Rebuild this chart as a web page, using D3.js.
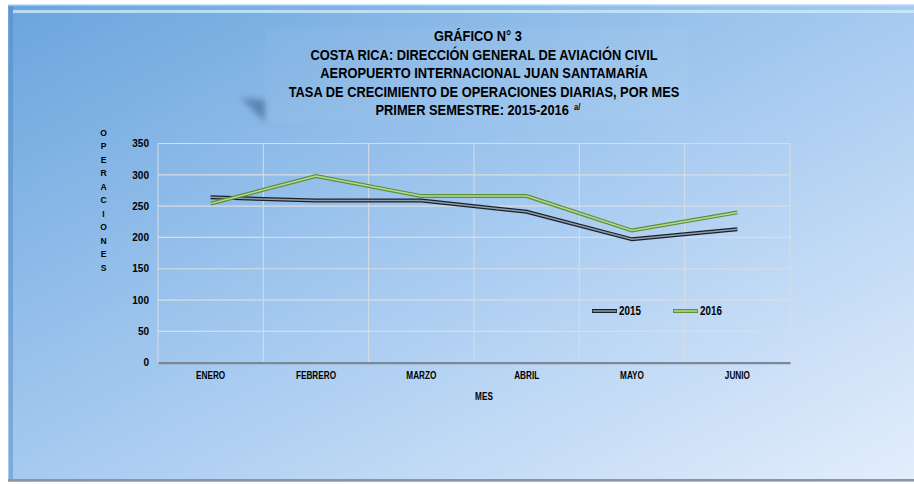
<!DOCTYPE html>
<html>
<head>
<meta charset="utf-8">
<script src="https://cdn.jsdelivr.net/npm/d3@7"></script>
<style>
  html, body { margin: 0; padding: 0; background: #fff; }
  svg { display: block; }
  text { font-family: "Liberation Sans", Arial, sans-serif; font-weight: bold; fill: #000; }
</style>
</head>
<body>
<svg width="914" height="484"></svg>
<script>
// chart data
var months = ["ENERO", "FEBRERO", "MARZO", "ABRIL", "MAYO", "JUNIO"];
var ops2015 = [264, 259, 259, 241, 197, 213];
var ops2016 = [254, 298, 266, 266, 211, 240];
var yTicks = [0, 50, 100, 150, 200, 250, 300, 350];
var titleLines = [
  "GRÁFICO N° 3",
  "COSTA RICA: DIRECCIÓN GENERAL DE AVIACIÓN CIVIL",
  "AEROPUERTO INTERNACIONAL JUAN SANTAMARÍA",
  "TASA DE CRECIMIENTO DE OPERACIONES DIARIAS, POR MES",
  "PRIMER SEMESTRE: 2015-2016"
];

// squeeze text horizontally around its own x (no narrow font installed)
function condense(sel, k){
    sel.each(function(){
        var t = d3.select(this);
        var x = +t.attr("x") || 0;
        t.attr("transform", "translate(" + x + ",0) scale(" + k + ",1) translate(" + (-x) + ",0)");
    });
}

function main(){
    var svg = d3.select("svg");

    var left = 158, right = 790, top = 143.5, bottom = 362.7;

    // background frame with gradient
    var defs = svg.append("defs");
    var grad = defs.append("linearGradient").attr("id", "bg")
        .attr("x1", "0").attr("y1", "0").attr("x2", "1").attr("y2", "1");
    grad.append("stop").attr("offset", "0").attr("stop-color", "#6aa5dd");
    grad.append("stop").attr("offset", "0.5").attr("stop-color", "#a6caf0");
    grad.append("stop").attr("offset", "1").attr("stop-color", "#e4eefc");

    var blur = defs.append("filter").attr("id", "blur")
        .attr("x", "-50%").attr("y", "-50%").attr("width", "200%").attr("height", "200%");
    blur.append("feGaussianBlur").attr("stdDeviation", 3);

    svg.append("rect").attr("x", 8).attr("y", 4).attr("width", 910).attr("height", 478)
        .attr("fill", "url(#bg)");
    // bevel edges
    svg.append("rect").attr("x", 8).attr("y", 4).attr("width", 910).attr("height", 1.5)
        .attr("fill", "#c6e3f7");
    svg.append("rect").attr("x", 13).attr("y", 10).attr("width", 905).attr("height", 3)
        .attr("fill", "#cdeefb").attr("opacity", 0.75);
    svg.append("rect").attr("x", 9).attr("y", 6).attr("width", 4).attr("height", 474)
        .attr("fill", "#4f86be").attr("opacity", 0.45);
    svg.append("rect").attr("x", 8).attr("y", 479).attr("width", 910).attr("height", 2.5)
        .attr("fill", "#8b96a5");

    // title box with shadow
    svg.append("polygon").attr("points", "241,98 265,100 265,122")
        .attr("fill", "#2d4f78").attr("opacity", 0.5).attr("filter", "url(#blur)");
    svg.append("rect").attr("x", 265).attr("y", 28).attr("width", 422).attr("height", 94)
        .attr("fill", "#ffffff").attr("opacity", 0.035);

    var title = svg.append("g").attr("class", "title");
    var tl = title.selectAll("text")
        .data(titleLines)
        .enter()
        .append("text")
        .attr("x", function(d, i){ return i === 0 ? 478 : (i === 4 ? 478 : 484); })
        .attr("y", function(d, i){ return 41.5 + i * 18.4; })
        .attr("text-anchor", "middle")
        .style("font-size", "15px")
        .text(function(d){ return d; });
    // superscript note mark
    tl.filter(function(d, i){ return i === titleLines.length - 1; })
        .append("tspan").attr("dx", 6).attr("dy", -5).style("font-size", "9px").text("a/");
    var widest = tl.nodes()[3].getComputedTextLength();
    condense(tl, 391 / widest);

    var xScale = d3.scaleBand().domain(months).range([left, right]).padding(0);
    var yScale = d3.scaleLinear().domain([0, 350]).range([bottom, top]);

    var g = svg.append("g");

    // horizontal grid
    g.selectAll(".hgrid")
        .data(yTicks.filter(function(d){ return d > 0; }))
        .enter()
        .append("line")
        .attr("x1", left).attr("x2", right)
        .attr("y1", function(d){ return yScale(d); })
        .attr("y2", function(d){ return yScale(d); })
        .attr("stroke", "#d9dde2").attr("stroke-width", 1.2);

    // vertical grid at band edges
    var edges = months.map(function(m){ return xScale(m); }).concat([right]);
    g.selectAll(".vgrid")
        .data(edges)
        .enter()
        .append("line")
        .attr("x1", function(d){ return d; }).attr("x2", function(d){ return d; })
        .attr("y1", top).attr("y2", bottom)
        .attr("stroke", "#d9dde2").attr("stroke-width", 1);

    // y axis labels
    var yAxis = g.append("g").attr("transform", "translate(" + (left - 9) + ",0)")
        .call(d3.axisLeft(yScale).tickValues(yTicks).tickSize(0).tickPadding(0));
    yAxis.select(".domain").remove();
    yAxis.selectAll("text").attr("font-family", null).attr("font-size", null)
        .style("font-size", "10px").style("fill", "#000");

    // x axis
    var xAxis = g.append("g").attr("transform", "translate(0," + bottom + ")")
        .call(d3.axisBottom(xScale).tickSize(0).tickPadding(9));
    xAxis.select(".domain").attr("stroke", "#7b8898").attr("stroke-width", 2.2);
    var xl = xAxis.selectAll("text").attr("font-family", null).attr("font-size", null)
        .style("font-size", "10px").style("fill", "#000");
    condense(xl, 0.82);

    // axis titles
    var mes = svg.append("text")
        .attr("x", 484).attr("y", 400.5)
        .attr("text-anchor", "middle").style("font-size", "10px").text("MES");
    condense(mes, 0.82);

    svg.append("g").selectAll("text")
        .data("OPERACIONES".split(""))
        .enter()
        .append("text")
        .attr("x", 103.5)
        .attr("y", function(d, i){ return 135.5 + i * 13.5; })
        .attr("text-anchor", "middle")
        .style("font-size", "8.5px")
        .text(function(d){ return d; });

    // lines (compound stroke)
    var series = [
        {name: "2015", values: ops2015, outer: "#1c2027", inner: "#8c9cb0"},
        {name: "2016", values: ops2016, outer: "#5a9133", inner: "#b9d89e"}
    ];
    var line = d3.line()
        .x(function(d, i){ return xScale(months[i]) + xScale.bandwidth() / 2; })
        .y(function(d){ return yScale(d); });

    series.forEach(function(s){
        g.append("path").datum(s.values).attr("d", line)
            .attr("fill", "none").attr("stroke", s.outer).attr("stroke-width", 4)
            .attr("stroke-linejoin", "miter");
        g.append("path").datum(s.values).attr("d", line)
            .attr("fill", "none").attr("stroke", s.inner).attr("stroke-width", 1.5)
            .attr("stroke-linejoin", "miter");
    });

    // legend
    var legend = svg.append("g").attr("transform", "translate(592,311)");
    var item = legend.selectAll("g")
        .data(series)
        .enter()
        .append("g")
        .attr("transform", function(d, i){ return "translate(" + (i * 81) + ",0)"; });
    item.append("line").attr("x1", 0).attr("x2", 25).attr("y1", 0).attr("y2", 0)
        .attr("stroke", function(d){ return d.outer; }).attr("stroke-width", 4);
    item.append("line").attr("x1", 0.7).attr("x2", 24.3).attr("y1", 0).attr("y2", 0)
        .attr("stroke", function(d){ return d.inner; }).attr("stroke-width", 1.5);
    var lt = item.append("text")
        .attr("x", 27).attr("y", 4.3)
        .style("font-size", "12px")
        .text(function(d){ return d.name; });
    condense(lt, 0.82);
}
main();
</script>
</body>
</html>
